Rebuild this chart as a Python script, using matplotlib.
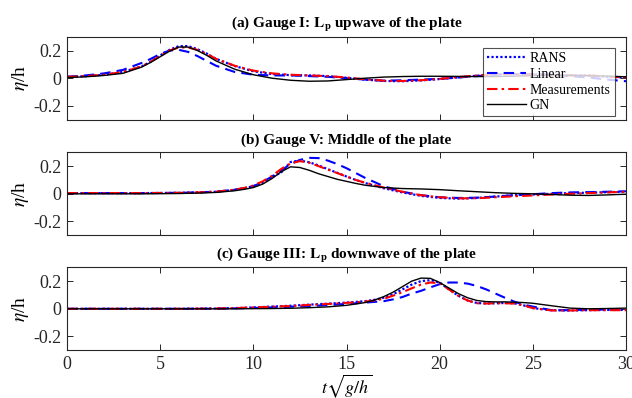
import numpy as np
import matplotlib
matplotlib.use("Agg")
import matplotlib.pyplot as plt

plt.rcParams['font.family'] = ['Liberation Serif', 'DejaVu Serif']
plt.rcParams['mathtext.fontset'] = 'stix'
plt.rcParams['axes.unicode_minus'] = False

# ---- gauge records (eta/h against t*sqrt(g/h)) ----
t_a = [0, 1, 2, 3, 4, 4.5, 5, 5.5, 6, 6.5, 7, 7.5, 8, 9, 10, 11, 12, 13, 14, 15,
       16, 17, 18, 19, 20, 21, 22, 23, 24, 25, 26, 27, 28, 29, 30]
rans_a = [0.01, 0.015, 0.025, 0.045, 0.085, 0.12, 0.165, 0.205, 0.232, 0.232, 0.21, 0.178,
          0.14, 0.088, 0.05, 0.03, 0.022, 0.02, 0.015, 0.003, -0.01, -0.02, -0.022, -0.016,
          -0.006, 0.006, 0.018, 0.028, 0.03, 0.028, 0.025, 0.022, 0.02, 0.01, 0.005]
linear_a = [0.01, 0.02, 0.035, 0.06, 0.11, 0.14, 0.175, 0.2, 0.205, 0.19, 0.16, 0.125,
            0.09, 0.045, 0.025, 0.02, 0.02, 0.015, 0.01, 0.0, -0.01, -0.018, -0.015, -0.01,
            -0.005, 0.005, 0.015, 0.025, 0.03, 0.03, 0.025, 0.015, 0.005, -0.01, -0.022]
meas_a = [0.01, 0.015, 0.025, 0.045, 0.085, 0.12, 0.16, 0.2, 0.222, 0.222, 0.205, 0.175,
          0.14, 0.09, 0.055, 0.035, 0.025, 0.02, 0.015, 0.005, -0.008, -0.018, -0.02, -0.015,
          -0.005, 0.008, 0.02, 0.03, 0.03, 0.025, 0.02, 0.02, 0.02, 0.012, 0.005]
gn_a = [0.005, 0.01, 0.02, 0.035, 0.08, 0.115, 0.155, 0.195, 0.225, 0.225, 0.2, 0.165,
        0.125, 0.065, 0.025, 0.0, -0.015, -0.022, -0.02, -0.01, 0.0, 0.008, 0.012, 0.014,
        0.014, 0.013, 0.012, 0.012, 0.015, 0.018, 0.02, 0.02, 0.018, 0.015, 0.01]

t_b = [0, 2, 4, 6, 7, 8, 9, 9.5, 10, 10.5, 11, 11.5, 12, 12.5, 13, 13.5, 14, 14.5, 15, 15.5,
       16, 17, 18, 19, 20, 21, 22, 23, 24, 25, 26, 27, 28, 29, 30]
rans_b = [0.005, 0.005, 0.005, 0.007, 0.01, 0.015, 0.028, 0.04, 0.055, 0.08, 0.12, 0.155,
          0.23, 0.24, 0.228, 0.205, 0.178, 0.152, 0.125, 0.1, 0.078, 0.04, 0.01, -0.015,
          -0.03, -0.035, -0.03, -0.02, -0.01, -0.005, 0.0, 0.005, 0.008, 0.012, 0.015]
linear_b = [0.005, 0.005, 0.005, 0.007, 0.01, 0.015, 0.03, 0.04, 0.055, 0.085, 0.125, 0.17,
            0.215, 0.245, 0.26, 0.258, 0.24, 0.215, 0.185, 0.15, 0.115, 0.055, 0.015, -0.01,
            -0.025, -0.03, -0.028, -0.02, -0.01, -0.003, 0.005, 0.01, 0.012, 0.015, 0.018]
meas_b = [0.005, 0.005, 0.005, 0.007, 0.01, 0.015, 0.03, 0.042, 0.06, 0.09, 0.13, 0.18,
          0.22, 0.236, 0.225, 0.2, 0.175, 0.15, 0.125, 0.1, 0.08, 0.045, 0.015, -0.01,
          -0.025, -0.033, -0.032, -0.025, -0.018, -0.012, -0.005, 0.0, 0.005, 0.01, 0.015]
gn_b = [0.0, 0.0, 0.0, 0.002, 0.005, 0.01, 0.022, 0.032, 0.045, 0.07, 0.11, 0.16,
        0.195, 0.19, 0.17, 0.145, 0.125, 0.105, 0.09, 0.075, 0.062, 0.045, 0.038, 0.035,
        0.03, 0.022, 0.015, 0.008, 0.003, 0.0, -0.005, -0.01, -0.012, -0.008, -0.003]

t_c = [0, 2, 4, 6, 8, 9, 10, 11, 12, 13, 14, 15, 16, 16.5, 17, 17.5, 18, 18.5, 19, 19.5,
       20, 20.5, 21, 21.5, 22, 22.5, 23, 23.5, 24, 24.5, 25, 26, 27, 28, 29, 30]
rans_c = [0, 0, 0, 0, 0.002, 0.005, 0.01, 0.016, 0.022, 0.03, 0.037, 0.045, 0.055, 0.065,
          0.08, 0.105, 0.14, 0.175, 0.2, 0.207, 0.19, 0.14, 0.095, 0.06, 0.042, 0.038,
          0.04, 0.042, 0.04, 0.025, 0.005, -0.01, -0.012, -0.01, -0.008, -0.008]
linear_c = [0, 0, 0, 0, 0.001, 0.003, 0.006, 0.01, 0.015, 0.02, 0.027, 0.035, 0.045, 0.05,
            0.055, 0.068, 0.085, 0.11, 0.13, 0.155, 0.178, 0.19, 0.19, 0.182, 0.165, 0.14,
            0.11, 0.08, 0.052, 0.03, 0.016, -0.01, -0.01, -0.005, -0.005, -0.01]
meas_c = [0, 0, 0, 0, 0.002, 0.005, 0.01, 0.015, 0.02, 0.028, 0.035, 0.043, 0.052, 0.06,
          0.072, 0.095, 0.12, 0.148, 0.175, 0.19, 0.185, 0.14, 0.093, 0.06, 0.04, 0.038,
          0.04, 0.04, 0.038, 0.025, 0.005, -0.012, -0.012, -0.01, -0.01, -0.01]
gn_c = [0, 0, 0, 0, 0, 0, 0.001, 0.002, 0.004, 0.008, 0.014, 0.025, 0.045, 0.063,
        0.088, 0.12, 0.16, 0.2, 0.222, 0.22, 0.19, 0.15, 0.11, 0.08, 0.06, 0.052,
        0.05, 0.05, 0.048, 0.045, 0.04, 0.022, 0.005, 0.0, 0.002, 0.005]

titles = [r"(a) Gauge I: $\mathbf{L_p}$ upwave of the plate",
          "(b) Gauge V: Middle of the plate",
          r"(c) Gauge III: $\mathbf{L_p}$ downwave of the plate"]
series_names = ["RANS", "Linear", "Measurements", "GN"]
x_ticks = [0, 5, 10, 15, 20, 25, 30]
y_ticks = [-0.2, 0, 0.2]
y_tick_labels = ["-0.2", "0", "0.2"]

panels = [(t_a, [rans_a, linear_a, meas_a, gn_a]),
          (t_b, [rans_b, linear_b, meas_b, gn_b]),
          (t_c, [rans_c, linear_c, meas_c, gn_c])]

styles = [dict(color='blue', linestyle=(0, (1, 1)), linewidth=1.6),
          dict(color='blue', linestyle=(0, (5, 3)), linewidth=1.5),
          dict(color='red', linestyle=(0, (5, 2, 1.2, 2)), linewidth=1.5),
          dict(color='black', linestyle='-', linewidth=1.0)]

fig = plt.figure(figsize=(6.32, 3.98), dpi=100)
W, H = 632.0, 398.0
left, right = 67.0, 626.0
tops = [36.7, 152.3, 267.3]
height = 83.0

for i, (t, curves) in enumerate(panels):
    ax = fig.add_axes([left / W, 1 - (tops[i] + height) / H, (right - left) / W, height / H])
    for name, y, st in zip(series_names, curves, styles):
        ax.plot(t, y, label=name, **st)
    ax.set_xlim(0, 30)
    ax.set_ylim(-0.3, 0.3)
    ax.set_xticks(x_ticks)
    ax.set_yticks(y_ticks)
    ax.set_yticklabels(y_tick_labels)
    if i < 2:
        ax.set_xticklabels([])
    ax.tick_params(direction='in', top=True, right=True, length=4, width=0.7,
                   labelsize=13, pad=4, colors='#262626')
    for s in ax.spines.values():
        s.set_linewidth(0.8)
        s.set_color('#262626')
    ax.set_ylabel(r"$\eta$/h", fontsize=14, labelpad=2)
    ax.set_title(titles[i], fontsize=11, fontweight='bold', pad=6)
    if i == 0:
        leg = ax.legend(loc='upper right', fontsize=10, frameon=True, fancybox=False,
                        edgecolor='#262626', handlelength=2.8, handletextpad=0.3,
                        borderpad=0.3, labelspacing=0.2, borderaxespad=0.8)
        leg.get_frame().set_linewidth(0.8)
    if i == 2:
        ax.set_xlabel(r"$t\sqrt{g/h}$", fontsize=13, labelpad=0)

fig.savefig("out.png", dpi=100)
